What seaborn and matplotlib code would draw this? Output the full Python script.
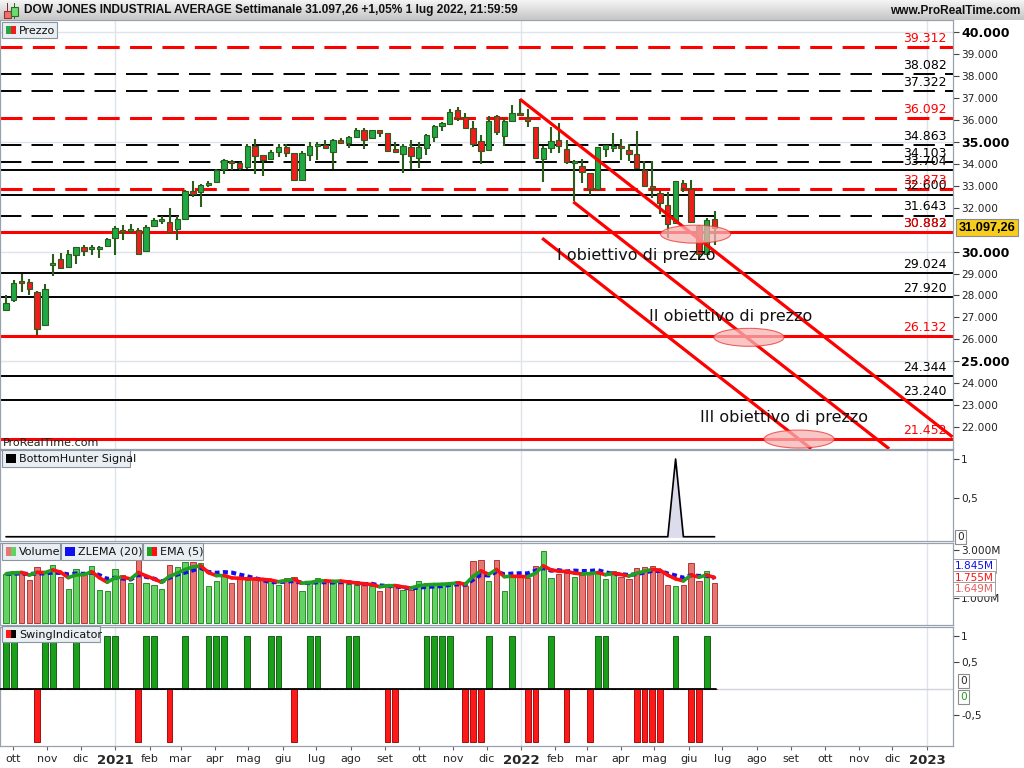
"""Weekly Dow Jones chart in the ProRealTime style."""

import matplotlib
matplotlib.use('Agg')
import matplotlib.pyplot as plt
import matplotlib.dates as mdates
from matplotlib.colors import LinearSegmentedColormap
from matplotlib.patches import Ellipse, Rectangle
import numpy as np
import pandas as pd
import seaborn as sns

# weekly bars, first week starts 28 Sep 2020
WEEK_START = '2020-09-28'

opens = [27342, 27796, 28673, 28612, 28159, 26662, 29399, 29671, 29308, 29853,
         30216, 30125, 30100, 30246, 30624, 31002, 30930, 31002, 30019, 31154,
         31400, 31350, 31033, 31486, 32757, 32696, 33050, 33196, 33755, 34148,
         34027, 33859, 34798, 34398, 34244, 34552, 34783, 34475, 33274, 34413,
         34800, 34860, 34521, 35091, 34937, 35245, 35522, 35168, 35522, 35399,
         34675, 34444, 34783, 34290, 34706, 35214, 35707, 35830, 36446, 36138,
         35630, 35029, 34638, 36191, 35256, 35935, 36342, 36070, 35663, 34200,
         34713, 35105, 34683, 34020, 33884, 33582, 32873, 34683, 34730, 34804,
         34638, 34457, 33733, 32980, 32690, 32130, 31290, 33120, 32860, 31150,
         29900, 31480]
highs = [28038, 28688, 28960, 28734, 28200, 28507, 29913, 29944, 30095, 30220,
         30322, 30322, 30276, 30624, 31184, 31229, 31275, 31093, 31214, 31547,
         31607, 32001, 31638, 32787, 33211, 33090, 33226, 33770, 34224, 34179,
         34103, 34906, 35137, 34420, 34629, 34906, 34906, 34490, 34567, 34983,
         34983, 35091, 35137, 35183, 35291, 35645, 35645, 35553, 35553, 35420,
         34983, 34906, 35091, 34983, 35368, 35784, 35907, 36523, 36600, 36323,
         35953, 35322, 36161, 36221, 36070, 36689, 36945, 36523, 35680, 34804,
         35663, 35859, 35090, 34155, 34200, 33600, 34780, 34880, 35407, 35135,
         34909, 35512, 34110, 34110, 32753, 32722, 33220, 33270, 33250, 31200,
         31520, 31870]
lows = [27297, 27705, 28159, 28023, 26193, 26620, 28885, 29218, 29300, 29429,
        29792, 29823, 29702, 30240, 29823, 30549, 30851, 29823, 29974, 31140,
        31244, 30860, 30518, 31470, 32470, 32016, 32938, 33190, 33528, 33725,
        33725, 33751, 33520, 33443, 34230, 34321, 34321, 33243, 33260, 34136,
        34167, 34675, 33751, 34906, 34706, 35230, 34675, 35150, 35245, 34580,
        34521, 33566, 33751, 33828, 34400, 35014, 35491, 35810, 35953, 35599,
        34752, 34013, 34608, 35316, 34800, 35920, 36191, 35663, 34240, 33175,
        34487, 34487, 34004, 32300, 33145, 32572, 32860, 34336, 34532, 34185,
        34110, 33790, 32960, 32435, 31697, 30613, 31280, 32700, 31370, 29650,
        29870, 30300]
closes = [27675, 28582, 28582, 28310, 26465, 28310, 29490, 29263, 29898, 30201,
          30034, 30186, 30150, 30579, 31078, 30912, 31000, 29913, 31123, 31456,
          31460, 30881, 31486, 32742, 32636, 33029, 33120, 33725, 34179, 34027,
          33831, 34798, 34367, 34198, 34521, 34783, 34475, 33274, 34475, 34829,
          34870, 34706, 35091, 34937, 35245, 35553, 35106, 35522, 35414, 34598,
          34552, 34829, 34337, 34783, 35322, 35707, 35861, 36369, 36107, 35630,
          34906, 34567, 35965, 35437, 35965, 36342, 36251, 35965, 34261, 34713,
          35060, 34804, 34080, 34058, 33627, 32873, 34758, 34864, 34818, 34713,
          34457, 33808, 32979, 32900, 32207, 31270, 33200, 32880, 31370, 29890,
          31450, 31097]
# weekly volume, millions
volumes = [2.01, 2.15, 2.10, 1.75, 2.30, 2.05, 2.40, 1.90, 1.40, 2.20,
           2.00, 2.35, 1.35, 1.30, 2.20, 1.95, 1.65, 2.60, 1.65, 1.55,
           1.40, 2.40, 2.30, 2.50, 2.50, 2.45, 1.50, 1.70, 1.95, 1.65,
           1.80, 1.75, 1.80, 1.75, 1.70, 1.55, 1.85, 1.90, 1.30, 1.70,
           1.85, 1.75, 1.65, 1.75, 1.60, 1.55, 1.55, 1.50, 1.30, 1.60,
           1.55, 1.35, 1.35, 1.70, 1.65, 1.60, 1.60, 1.65, 1.70, 1.50,
           2.55, 2.60, 1.70, 2.60, 1.30, 1.95, 1.90, 1.85, 2.35, 2.95,
           1.85, 2.00, 2.10, 1.90, 1.95, 2.05, 2.15, 1.80, 2.15, 1.90,
           1.80, 2.25, 2.30, 2.35, 2.10, 1.55, 1.50, 1.55, 2.45, 1.70,
           2.15, 1.649]
swing = [1, 1, 0, 0, -1, 1, 1, 0, 0, 1,
         0, 0, 0, 1, 1, 0, 0, -1, 1, 1,
         0, -1, 0, 1, 0, 0, 1, 1, 1, 0,
         0, 1, 0, 0, 1, 1, 0, -1, 0, 1,
         1, 0, 0, 0, 1, 1, 0, 0, 0, -1,
         -1, 0, 0, 0, 1, 1, 1, 1, 0, -1,
         -1, -1, 1, 0, 0, 1, 0, -1, -1, 0,
         1, 0, -1, 0, 0, -1, 1, 1, 0, 0,
         0, -1, -1, -1, -1, 0, 1, 0, -1, -1,
         1, 0]
bottom_hunter = [0] * 86 + [1] + [0] * 5

# price levels
levels_red_dashed = [39312, 36092, 32873]
levels_black_dashed = [38082, 37322, 34863, 34103, 31643, 30882]
levels_black_solid = [33704, 32600, 29024, 27920, 24344, 23240]
levels_red_solid = [30883, 26132, 21452]

# falling channel: start / end points
channel_start = ['2021-12-31', '2022-02-17', '2022-01-20']
channel_start_price = [36950, 32270, 30610]
channel_end = ['2023-01-24', '2022-11-28', '2022-09-19']
channel_end_price = [21550, 21010, 21010]

# price targets
target_labels = ['I obiettivo di prezzo', 'II obiettivo di prezzo', 'III obiettivo di prezzo']
target_text_date = ['2022-02-02', '2022-04-26', '2022-06-11']
target_text_price = [29806, 27026, 22424]
target_zone_date = ['2022-06-07', '2022-07-25', '2022-09-08']
target_zone_price = [30795, 26092, 21452]

title = 'DOW JONES INDUSTRIAL AVERAGE Settimanale 31.097,26 +1,05% 1 lug 2022, 21:59:59'
last_price = 31097.26
volume_tags = ['1.845M', '1.755M', '1.649M']
month_names = ['gen', 'feb', 'mar', 'apr', 'mag', 'giu', 'lug', 'ago', 'set', 'ott', 'nov', 'dic']

W, H = 1024, 768
GREEN = '#20a844'
RED = '#f21c1c'
WICK = '#2c5c1c'
GRID = '#dfe3ea'
FRAME = '#98a2ad'


def fx(px):
    return px / W


def fy(py):
    return 1 - py / H


def fmt_thousands(v):
    return f'{v:,.0f}'.replace(',', '.')


sns.set_style('white')
plt.rcParams['font.family'] = ['DejaVu Sans']

fig = plt.figure(figsize=(W / 100, H / 100), dpi=100)
fig.patch.set_facecolor('white')

dates = pd.date_range(WEEK_START, periods=len(closes), freq='W-MON') - pd.Timedelta(days=3)
x = mdates.date2num(dates)
o = np.array(opens, float)
c = np.array(closes, float)
up = c >= o
xlim = (mdates.date2num(pd.Timestamp('2020-09-19 14:00')), mdates.date2num(pd.Timestamp('2023-01-24 10:00')))
years = mdates.date2num(pd.to_datetime(['2021-01-01', '2022-01-01', '2023-01-01']))

right = 953
ax_p = fig.add_axes([0, fy(449), fx(right), (449 - 20) / H])
ax_b = fig.add_axes([0, fy(541), fx(right), (541 - 450) / H])
ax_v = fig.add_axes([0, fy(625), fx(right), (625 - 543) / H])
ax_s = fig.add_axes([0, fy(746), fx(right), (746 - 627) / H])

for ax in (ax_p, ax_b, ax_v, ax_s):
    ax.set_xlim(*xlim)
    for sp in ax.spines.values():
        sp.set_color(FRAME)
        sp.set_linewidth(0.9)
    for yr in years:
        ax.axvline(yr, color=GRID, lw=1, zorder=0)
    ax.yaxis.tick_right()
    ax.tick_params(axis='y', which='both', length=4, width=0.8, color='#444',
                   labelsize=7.6, pad=2, labelcolor='#222')
    ax.tick_params(axis='x', bottom=False, labelbottom=False)

# ---- price pane ----
ax_p.set_ylim(21000, 40560)
for g in (25000, 30000, 35000, 40000):
    ax_p.axhline(g, color=GRID, lw=1, zorder=0)

for lv in levels_red_dashed:
    ax_p.axhline(lv, color='#ff0000', lw=2.2, ls=(0, (7.2, 3.4)), zorder=2)
for lv in levels_black_dashed:
    ax_p.axhline(lv, color='black', lw=1.4, ls=(0, (11, 5.2)), zorder=2)
for lv in levels_black_solid:
    ax_p.axhline(lv, color='black', lw=1.4, zorder=2)
for lv in levels_red_solid:
    ax_p.axhline(lv, color='#ff0000', lw=2.2, zorder=2)

for lv in levels_black_dashed + levels_black_solid:
    ax_p.annotate(fmt_thousands(lv), xy=(0.993, lv), xycoords=('axes fraction', 'data'),
                  xytext=(0, 1.5), textcoords='offset points', ha='right', va='bottom',
                  fontsize=9, color='black', zorder=6)
for lv in levels_red_dashed + levels_red_solid:
    ax_p.annotate(fmt_thousands(lv), xy=(0.993, lv), xycoords=('axes fraction', 'data'),
                  xytext=(0, 1.5), textcoords='offset points', ha='right', va='bottom',
                  fontsize=9, color='#ff0000', zorder=6)

# candles
ax_p.vlines(x, lows, highs, color=WICK, lw=1.5, zorder=3)
body_low = np.minimum(o, c)
body_h = np.maximum(np.abs(c - o), 90)
ax_p.bar(x, body_h, bottom=body_low, width=4.8, color=np.where(up, GREEN, RED),
         edgecolor=WICK, linewidth=0.8, zorder=4)

# channel
for s, sp_, e, ep in zip(channel_start, channel_start_price, channel_end, channel_end_price):
    ax_p.plot(mdates.date2num(pd.to_datetime([s, e])), [sp_, ep], color='#ff0000', lw=2.3,
              zorder=5, solid_capstyle='butt')

for d, p in zip(target_zone_date, target_zone_price):
    ax_p.add_patch(Ellipse((mdates.date2num(pd.Timestamp(d)), p), 63, 820,
                           facecolor='#f7b4b4', edgecolor='#ee3030', lw=0.8, alpha=0.75, zorder=5))
for lbl, d, p in zip(target_labels, target_text_date, target_text_price):
    ax_p.text(mdates.date2num(pd.Timestamp(d)), p, lbl, fontsize=11.5, color='#111',
              ha='left', va='center', zorder=7)

ax_p.text(0.003, 0.014, 'ProRealTime.com', transform=ax_p.transAxes, fontsize=8,
          color='#222', va='center', ha='left', zorder=7)

# the 31.000 tick sits under the last-price tag, as in the original
ticks = [t for t in range(22000, 40001, 1000) if t != 31000]
ax_p.set_yticks(ticks)
ax_p.set_yticklabels([fmt_thousands(t) for t in ticks])
for t, lab in zip(ticks, ax_p.get_yticklabels()):
    if t % 5000 == 0:
        lab.set_fontweight('bold')
        lab.set_fontsize(9)
        lab.set_color('black')

price_tag = f'{last_price:,.2f}'.replace(',', 'X').replace('.', ',').replace('X', '.')
ax_p.annotate(price_tag, xy=(1.0, last_price), xycoords=('axes fraction', 'data'), xytext=(4, 0),
              textcoords='offset points', ha='left', va='center', fontsize=9.2,
              family=['Liberation Sans', 'DejaVu Sans'], fontweight='bold', color='black',
              annotation_clip=False,
              bbox=dict(boxstyle='square,pad=0.22', facecolor='#f6cd1c', edgecolor='#8c8c8c', lw=0.8))

# ---- BottomHunter pane ----
ax_b.set_ylim(-0.055, 1.116)
bh = np.array(bottom_hunter, float)
ax_b.fill_between(x, 0, bh, color='#dcdcec', zorder=1)
sns.lineplot(x=x, y=bh, ax=ax_b, color='black', lw=1.2, zorder=2)
ax_b.set_yticks([0.5, 1])
ax_b.set_yticklabels(['0,5', '1'])
ax_b.text(1.004, 0.0, '0', transform=ax_b.get_yaxis_transform(), fontsize=7.6, ha='left',
          va='center', bbox=dict(boxstyle='square,pad=0.2', facecolor='white', edgecolor='#8c8c8c', lw=0.8))

# ---- Volume pane ----
ax_v.set_ylim(-0.1, 3.29)
vol = pd.Series(volumes)
ax_v.bar(x, vol, width=4.8, color=np.where(up, '#62d262', '#e87572'),
         edgecolor=np.where(up, '#2e8a2e', '#b03a3a'), linewidth=0.7, zorder=2)
lag = 9
zl_src = (2 * vol - vol.shift(lag)).fillna(vol)
zlema = zl_src.ewm(span=20, adjust=False).mean()
ema5 = vol.ewm(span=5, adjust=False).mean()
sns.lineplot(x=x, y=zlema.values, ax=ax_v, color='#1010ee', lw=3.0, zorder=3,
             linestyle=(0, (1.2, 0.8)))
for i in range(1, len(x)):
    col = '#20a020' if ema5[i] >= ema5[i - 1] else '#ff1010'
    ax_v.plot(x[i - 1:i + 1], ema5[i - 1:i + 1], color=col, lw=2.6, zorder=4,
              solid_capstyle='round')
ax_v.set_yticks([1, 3])
ax_v.set_yticklabels(['1.000M', '3.000M'])
for tag, ypx, col in zip(volume_tags, [566, 578, 589], ['#1010ee', '#ff1010', '#e06060']):
    fig.text(fx(955), fy(ypx), tag, fontsize=7.6, color=col, ha='left', va='center', zorder=12,
             bbox=dict(boxstyle='square,pad=0.15', facecolor='white', edgecolor='#a0a0a0', lw=0.7))

# ---- Swing pane ----
ax_s.set_ylim(-1.077, 1.17)
sw = np.array(swing, float)
ax_s.bar(x, sw, width=5.2, color=np.where(sw > 0, '#18a018', '#ff1818'),
         edgecolor=np.where(sw > 0, '#1c5c1c', '#a01010'), linewidth=0.7, zorder=2)
ax_s.axhline(0, color='#d0d4da', lw=1, zorder=1)
ax_s.plot([x[0] - 7, x[-1] + 1], [0, 0], color='black', lw=1.3, zorder=3)
ax_s.set_yticks([-0.5, 0.5, 1])
ax_s.set_yticklabels(['-0,5', '0,5', '1'])
fig.text(fx(960), fy(681), '0', fontsize=7.6, ha='left', va='center', zorder=12,
         bbox=dict(boxstyle='square,pad=0.2', facecolor='white', edgecolor='#8c8c8c', lw=0.8))
fig.text(fx(960), fy(697), '0', fontsize=7.6, ha='left', va='center', color='#18a018', zorder=12,
         bbox=dict(boxstyle='square,pad=0.2', facecolor='white', edgecolor='#8c8c8c', lw=0.8))

months = pd.date_range('2020-10-01', '2023-01-01', freq='MS')
ax_s.set_xticks(mdates.date2num(months))
ax_s.set_xticklabels([str(m.year) if m.month == 1 else month_names[m.month - 1] for m in months])
ax_s.tick_params(axis='x', bottom=True, labelbottom=True, length=3, color='#666',
                 labelsize=8, pad=3)
for lab in ax_s.get_xticklabels():
    if lab.get_text().isdigit():
        lab.set_fontweight('bold')
        lab.set_fontsize(9.5)

# ---- header ----
hdr = fig.add_axes([0, fy(20), 1, 20 / H])
hdr.imshow(np.linspace(0, 1, 20).reshape(-1, 1), aspect='auto', extent=[0, 1, 0, 1],
           cmap=LinearSegmentedColormap.from_list('hdr', ['#f4f4f4', '#c6c6c6']))
hdr.set_axis_off()
fig.text(fx(24), fy(10.5), title, fontsize=8.6, fontweight='bold', color='#111', va='center',
         family=['Liberation Sans', 'DejaVu Sans'], zorder=12)
fig.text(fx(1020), fy(10.5), 'www.ProRealTime.com', fontsize=8.6, fontweight='bold', color='#111',
         va='center', ha='right', family=['Liberation Sans', 'DejaVu Sans'], zorder=12)


def box(x0, y0, x1, y1, face, edge='#8a959f', lw=0.8):
    fig.add_artist(Rectangle((fx(x0), fy(y1)), (x1 - x0) / W, (y1 - y0) / H,
                             transform=fig.transFigure, facecolor=face, edgecolor=edge,
                             lw=lw, zorder=10))


# header candle icon
box(7, 3, 8, 19, '#7a3030', edge='none')
box(4, 11, 11, 18, '#f07070', edge='#a03030')
box(14, 3, 15, 19, '#2c6a2c', edge='none')
box(11, 7, 18, 16, '#6cdc6c', edge='#2c6a2c')

# pane legends
legends = [
    (2, 22, 57, 38, 'Prezzo', ['#20a844', '#f21c1c']),
    (2, 450, 130, 467, 'BottomHunter Signal', ['black']),
    (2, 543, 60, 560, 'Volume', ['#e87572', '#62d262']),
    (61, 543, 142, 560, 'ZLEMA (20)', ['#1010ee']),
    (143, 543, 203, 560, 'EMA (5)', ['#20a020', '#ff1010']),
    (2, 626, 100, 642, 'SwingIndicator', ['#ff1818', 'black']),
]
for x0, y0, x1, y1, label, cols in legends:
    box(x0, y0, x1, y1, '#e9eef3')
    sw_w = 10 / len(cols)
    for k, col in enumerate(cols):
        box(x0 + 4 + k * sw_w, y0 + 4, x0 + 4 + (k + 1) * sw_w, y1 - 4, col, edge='none')
    fig.text(fx(x0 + 17), fy((y0 + y1) / 2 + 0.5), label, fontsize=8, color='#111',
             va='center', ha='left', zorder=12)

fig.savefig('out.png', dpi=100)
